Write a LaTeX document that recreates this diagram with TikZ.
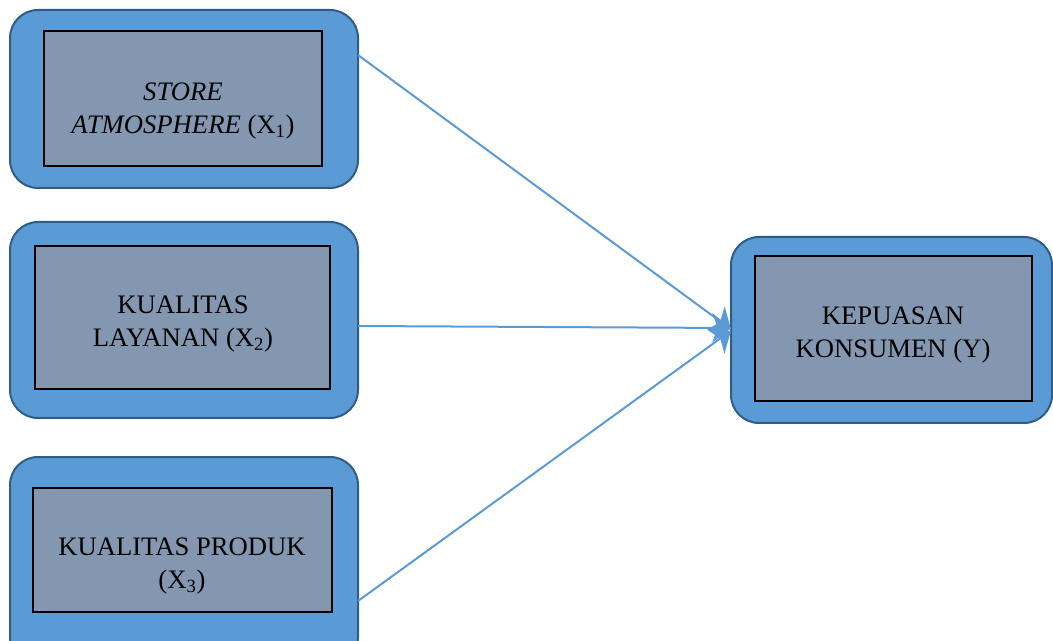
\documentclass[tikz,border=0pt]{standalone}
\usepackage{fontspec}
\setmainfont{Liberation Serif}
\usetikzlibrary{arrows.meta}
\definecolor{outerfill}{HTML}{5B9BD5}
\definecolor{outerdraw}{HTML}{2F5D8A}
\definecolor{innerfill}{HTML}{8497B0}
\definecolor{linkcol}{HTML}{5B9BD5}
\begin{document}
\begin{tikzpicture}[x=0.75pt,y=-0.75pt,
  outerbox/.style={draw=outerdraw,fill=outerfill,line width=1.5pt,rounded corners=21pt,inner sep=0pt,outer sep=0pt},
  innerbox/.style={draw=black,fill=innerfill,line width=1.1pt,inner sep=0pt,outer sep=0pt},
  lbl/.style={align=center,font=\fontsize{20}{24.5}\selectfont,inner sep=0pt},
  link/.style={draw=linkcol,line width=1.5pt,-{Stealth[length=14pt,width=22pt,inset=4pt]}}]
\useasboundingbox (0,0) rectangle (1053,641);
% outer boxes
\node[outerbox,minimum width=261pt,minimum height=133.5pt] (b1) at (184,99) {};
\node[outerbox,minimum width=261pt,minimum height=147pt] (b2) at (184,320) {};
\node[outerbox,minimum width=261pt,minimum height=156pt] (b3) at (184,561) {};
\node[outerbox,minimum width=240.75pt,minimum height=139.5pt] (y) at (891.5,330) {};
% inner boxes
\node[innerbox,minimum width=208.5pt,minimum height=101.25pt] (i1) at (183,98.5) {};
\node[innerbox,minimum width=221.25pt,minimum height=107.25pt] (i2) at (182.5,317.5) {};
\node[innerbox,minimum width=224.25pt,minimum height=93pt] (i3) at (182.5,550) {};
\node[innerbox,minimum width=207.75pt,minimum height=108.75pt] (iy) at (893.5,328.5) {};
% labels
\node[lbl] (t1) at (183,111) {\textit{STORE}\\\textit{ATMOSPHERE} (X\textsubscript{1})};
\node[lbl] (t2) at (183,324) {KUALITAS\\LAYANAN (X\textsubscript{2})};
\node[lbl] (t3) at (182,566) {KUALITAS PRODUK\\(X\textsubscript{3})};
\node[lbl] (ty) at (893,335) {KEPUASAN\\KONSUMEN (Y)};
% connector anchors
\coordinate (s1) at (b1.east |- 0,55);
\coordinate (s2) at (b2.east |- 0,326);
\coordinate (s3) at (b3.east |- 0,601);
\coordinate (e1) at ([yshift=0.5pt]y.west);
\coordinate (e2) at ([yshift=1.5pt]y.west);
\coordinate (e3) at ([yshift=-0.5pt]y.west);
\draw[link] (s1) -- (e1);
\draw[link] (s2) -- (e2);
\draw[link] (s3) -- (e3);
\end{tikzpicture}
\end{document}
